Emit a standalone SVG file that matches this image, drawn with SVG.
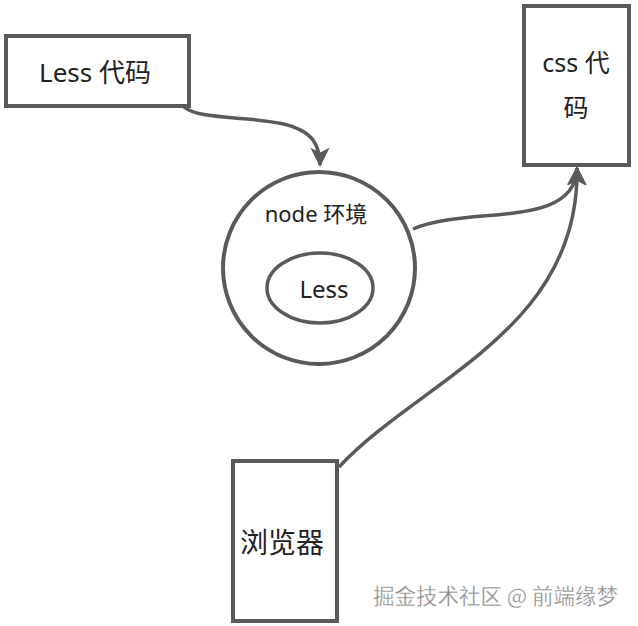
<svg xmlns="http://www.w3.org/2000/svg" width="638" height="626" viewBox="0 0 638 626">
<style>
.box{fill:#fff;stroke:#5a5a5a;stroke-width:4}
.ln{fill:none;stroke:#5a5a5a;stroke-width:3.5}
.t{font-family:"Noto Sans","Noto Sans CJK SC",sans-serif;fill:#222;text-anchor:middle}
.wm{font-family:"Noto Sans CJK SC",sans-serif;fill:#8a8a8a;font-size:21.5px;stroke:#fff;stroke-width:0.3}
</style>
<defs>
<marker id="ah" viewBox="0 0 10 10" refX="9" refY="5" markerWidth="6" markerHeight="5.5" orient="auto" markerUnits="strokeWidth">
<path d="M0,0 L10,5 L0,10 L2.5,5 Z" fill="#5a5a5a"/>
</marker>
</defs>
<rect width="638" height="626" fill="#fff"/>
<g id="connectors">
<path class="ln" d="M184,107 C205,125 290,110 313,140 Q320,150 320,165" marker-end="url(#ah)"/>
<path class="ln" d="M413,229 C470,205 575,230 577,168" marker-end="url(#ah)"/>
<path class="ln" d="M339,467 C420,380 580,330 577,168" marker-end="url(#ah)"/>
</g>
<g id="less-code">
<rect class="box" x="6" y="36" width="183" height="70"/>
<text class="t" x="95" y="82" font-size="26">Less 代码</text>
</g>
<g id="css-code">
<rect class="box" x="524" y="6" width="105" height="159"/>
<text class="t" x="576" y="72" font-size="25">css 代</text>
<text class="t" x="576" y="117" font-size="25">码</text>
</g>
<g id="node-env">
<circle cx="319" cy="268" r="96" fill="#fff" stroke="#5a5a5a" stroke-width="4"/>
<text class="t" x="316" y="222" font-size="22">node 环境</text>
</g>
<g id="less">
<ellipse cx="320" cy="288" rx="53" ry="35" fill="#fff" stroke="#5a5a5a" stroke-width="3.5"/>
<text class="t" x="324" y="298" font-size="24">Less</text>
</g>
<g id="browser">
<rect class="box" x="233" y="461" width="104" height="160"/>
<text class="t" x="282" y="553" font-size="28">浏览器</text>
</g>
<text class="wm" x="373" y="604">掘金技术社区 @ 前端缘梦</text>
</svg>
